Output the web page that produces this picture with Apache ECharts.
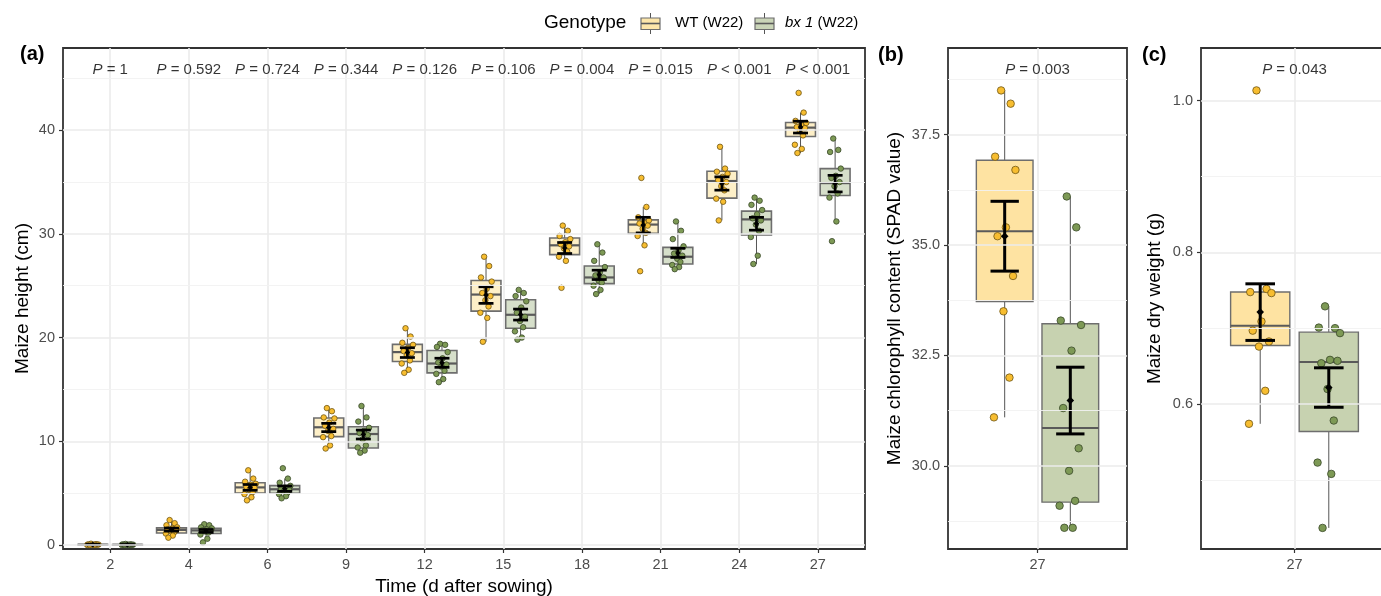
<!DOCTYPE html>
<html>
<head>
<meta charset="utf-8">
<script src="https://cdn.jsdelivr.net/npm/echarts@6/dist/echarts.min.js"></script>
<style>
  html, body { margin: 0; padding: 0; background: #fff; }
  #chart { width: 1381px; height: 596px; }
</style>
</head>
<body>
<div id="chart"></div>
<script>
// ---------- (a) maize height over time ----------
const DAYS = ['2', '4', '6', '9', '12', '15', '18', '21', '24', '27'];
const P_HEIGHT = ['= 1', '= 0.592', '= 0.724', '= 0.344', '= 0.126', '= 0.106', '= 0.004', '= 0.015', '< 0.001', '< 0.001'];

// individual plants, one list per sampling day
const WT_HEIGHT = [
  [0.12, 0.08, 0.05, 0.04, 0.03, 0.02, 0.02, 0.01, 0.01, 0, 0, 0],
  [2.4, 2.1, 1.9, 1.7, 1.6, 1.5, 1.4, 1.3, 1.2, 1.1, 0.9, 0.7],
  [7.2, 6.4, 6.1, 5.9, 5.8, 5.6, 5.5, 5.3, 5.1, 4.9, 4.6, 4.3],
  [13.2, 12.9, 12.3, 12.2, 11.8, 11.5, 11.2, 11.0, 10.5, 10.4, 9.6, 9.3],
  [20.9, 20.1, 19.5, 19.3, 19.0, 18.7, 18.5, 18.3, 17.8, 17.5, 16.9, 16.6],
  [27.8, 26.9, 25.8, 25.4, 24.7, 24.3, 24.0, 23.6, 23.0, 22.4, 21.9, 19.6],
  [30.8, 30.3, 29.8, 29.5, 29.2, 29.0, 28.8, 28.6, 28.3, 27.8, 27.4, 24.8],
  [35.4, 32.6, 31.6, 31.3, 31.1, 31.0, 30.8, 30.5, 30.1, 29.8, 28.9, 26.4],
  [38.4, 36.3, 36.0, 35.8, 35.5, 35.2, 35.0, 34.6, 34.2, 33.4, 33.1, 31.3],
  [43.6, 41.7, 40.9, 40.7, 40.5, 40.3, 40.2, 39.9, 39.5, 38.6, 38.2, 37.8]
];
const BX1_HEIGHT = [
  [0.1, 0.06, 0.05, 0.03, 0.02, 0.02, 0.01, 0.01, 0, 0, 0, 0],
  [2.0, 1.9, 1.7, 1.6, 1.5, 1.4, 1.4, 1.3, 1.2, 1.0, 0.6, 0.25],
  [7.4, 6.4, 6.0, 5.7, 5.5, 5.4, 5.3, 5.2, 5.0, 4.9, 4.7, 4.5],
  [13.4, 12.3, 11.9, 11.3, 11.0, 10.8, 10.6, 10.2, 9.6, 9.4, 9.1, 8.9],
  [19.4, 19.3, 19.1, 18.6, 18.0, 17.6, 17.4, 17.2, 16.8, 16.5, 16.0, 15.7],
  [24.6, 24.3, 24.0, 23.5, 22.9, 22.4, 22.0, 21.6, 21.0, 20.6, 20.0, 19.8],
  [29.0, 28.2, 27.4, 26.8, 26.3, 26.0, 25.8, 25.5, 25.3, 25.0, 24.6, 24.2],
  [31.2, 30.3, 29.5, 28.8, 28.4, 28.1, 27.9, 27.6, 27.3, 27.0, 26.8, 26.6],
  [33.5, 33.2, 32.8, 32.3, 31.9, 31.5, 31.3, 30.9, 30.3, 29.7, 27.9, 27.1],
  [39.2, 38.1, 37.9, 36.3, 35.6, 35.4, 35.0, 34.6, 33.9, 33.5, 31.2, 29.3]
];

// box summaries: [lower whisker, Q1, median, Q3, upper whisker]
const WT_HEIGHT_BOX = [
  [0, 0.01, 0.02, 0.045, 0.08], [0.7, 1.15, 1.45, 1.65, 2.4], [4.3, 5.0, 5.55, 6.0, 7.2],
  [9.3, 10.45, 11.35, 12.25, 13.2], [16.6, 17.7, 18.6, 19.35, 20.9], [19.6, 22.55, 24.15, 25.5, 27.8],
  [27.4, 28.0, 28.9, 29.6, 30.8], [28.9, 30.05, 30.9, 31.35, 32.6], [31.3, 33.45, 35.1, 36.05, 38.4],
  [37.8, 39.4, 40.25, 40.75, 41.7]
];
const BX1_HEIGHT_BOX = [
  [0, 0, 0.01, 0.03, 0.06], [0.6, 1.1, 1.4, 1.6, 2.0], [4.5, 4.98, 5.37, 5.72, 6.4],
  [8.9, 9.35, 10.7, 11.4, 13.4], [15.7, 16.6, 17.5, 18.75, 19.4], [19.8, 20.9, 22.2, 23.65, 24.6],
  [24.2, 25.2, 25.8, 26.9, 29.0], [26.6, 27.1, 27.8, 28.7, 31.2], [27.1, 29.9, 31.4, 32.2, 33.5],
  [31.2, 33.7, 34.9, 36.3, 39.2]
];

// mean and standard error per day
const WT_HEIGHT_MEAN = [0.03, 1.48, 5.55, 11.33, 18.55, 24.1, 28.64, 30.85, 34.86, 40.3];
const WT_HEIGHT_SE = [0.02, 0.15, 0.28, 0.4, 0.47, 0.8, 0.53, 0.75, 0.64, 0.57];
const BX1_HEIGHT_MEAN = [0.02, 1.35, 5.43, 10.65, 17.57, 22.22, 26.05, 28.17, 30.98, 34.85];
const BX1_HEIGHT_SE = [0.02, 0.14, 0.26, 0.43, 0.44, 0.53, 0.45, 0.44, 0.62, 0.8];

// ---------- (b) chlorophyll (SPAD) at day 27 ----------
const DAY_FINAL = ['27'];
const P_SPAD = ['= 0.003'];
const WT_SPAD = [38.5, 38.2, 37.0, 36.7, 35.4, 35.2, 34.3, 33.5, 32.0, 31.1];
const BX1_SPAD = [36.1, 35.4, 33.29, 33.19, 32.61, 31.31, 30.4, 29.89, 29.21, 29.1, 28.6, 28.6];
const WT_SPAD_BOX = [31.1, 33.72, 35.31, 36.92, 38.5];
const BX1_SPAD_BOX = [28.6, 29.18, 30.86, 33.22, 36.1];
const WT_SPAD_MEAN = 35.2, WT_SPAD_SE = 0.79;
const BX1_SPAD_MEAN = 31.48, BX1_SPAD_SE = 0.755;

// ---------- (c) dry weight at day 27 ----------
const P_DRY = ['= 0.043'];
const WT_DRY = [1.0136, 0.752, 0.7478, 0.7465, 0.709, 0.697, 0.6827, 0.676, 0.6177, 0.5742];
const BX1_DRY = [0.729, 0.7003, 0.701, 0.6937, 0.6585, 0.654, 0.6572, 0.620, 0.5785, 0.5231, 0.5082, 0.437];
const WT_DRY_BOX = [0.5742, 0.6774, 0.7034, 0.748, 0.752];
const BX1_DRY_BOX = [0.437, 0.564, 0.6555, 0.695, 0.729];
const WT_DRY_MEAN = 0.7214, WT_DRY_SE = 0.0373;
const BX1_DRY_MEAN = 0.622, BX1_DRY_SE = 0.026;

// axis ticks
const TICKS_HEIGHT = [0, 10, 20, 30, 40];
const TICKS_SPAD = [30, 32.5, 35, 37.5];
const TICKS_DRY = [0.6, 0.8, 1.0];

// ---------- styling & layout ----------
const FONT = '"Liberation Sans", Arial, Helvetica, sans-serif';
const DODGE = 0.22;      // group offset from category centre
const BOX_W = 0.38;      // box width, category units
const CAP_W = 0.19;      // error-bar cap width
const JIT = 0.08;        // horizontal spread of the dots
const JITTER = [-0.3, 0.5, -0.8, 0.9, 0.1, -0.6, 0.7, -0.1, 0.4, -0.9, 0.2, -0.5];

const COL = {
  wtFillA: '#FDEFC7', bxFillA: '#D6DFCA',
  wtFillB: '#FEE3A2', bxFillB: '#C7D2B0',
  wtDot: '#F7BD30', wtDotEdge: '#6E5614',
  bxDot: '#7D9955', bxDotEdge: '#3A4929',
  boxEdge: '#6E6E6E', median: '#5A5A5A', whisker: '#555555',
  frame: '#333333', tickText: '#4D4D4D',
  gridMajor: '#EBEBEB', gridMinor: '#F2F2F2'
};

function boxSeries(grid, data, fill, lw) {
  return {
    type: 'custom', xAxisIndex: grid, yAxisIndex: grid, z: 2, silent: true,
    data: data,
    renderItem: function (params, api) {
      const x = api.value(0);
      const p = i => api.coord([x, api.value(i)]);
      const lo = p(1), q1 = p(2), md = p(3), q3 = p(4), hi = p(5);
      const hw = api.size([BOX_W, 0])[0] / 2;
      const cx = lo[0];
      return {
        type: 'group', children: [
          { type: 'line', shape: { x1: cx, y1: hi[1], x2: cx, y2: q3[1] }, style: { stroke: COL.whisker, lineWidth: 1 } },
          { type: 'line', shape: { x1: cx, y1: q1[1], x2: cx, y2: lo[1] }, style: { stroke: COL.whisker, lineWidth: 1 } },
          { type: 'rect', shape: { x: cx - hw, y: q3[1], width: 2 * hw, height: Math.max(q1[1] - q3[1], 0.5) },
            style: { fill: fill, stroke: COL.boxEdge, lineWidth: lw } },
          { type: 'line', shape: { x1: cx - hw, y1: md[1], x2: cx + hw, y2: md[1] }, style: { stroke: COL.median, lineWidth: lw + 0.6 } }
        ]
      };
    }
  };
}

function meanSeries(grid, data, lw, dia) {
  return {
    type: 'custom', xAxisIndex: grid, yAxisIndex: grid, z: 4, silent: true,
    data: data,
    renderItem: function (params, api) {
      const x = api.value(0), m = api.value(1), se = api.value(2);
      const top = api.coord([x, m + se]), bot = api.coord([x, m - se]), c = api.coord([x, m]);
      const hc = api.size([CAP_W, 0])[0] / 2;
      const st = { stroke: '#000', lineWidth: lw };
      return {
        type: 'group', children: [
          { type: 'line', shape: { x1: c[0], y1: top[1], x2: c[0], y2: bot[1] }, style: st },
          { type: 'line', shape: { x1: c[0] - hc, y1: top[1], x2: c[0] + hc, y2: top[1] }, style: st },
          { type: 'line', shape: { x1: c[0] - hc, y1: bot[1], x2: c[0] + hc, y2: bot[1] }, style: st },
          { type: 'polygon', shape: { points: [[c[0], c[1] - dia], [c[0] + dia, c[1]], [c[0], c[1] + dia], [c[0] - dia, c[1]]] },
            style: { fill: '#000' } }
        ]
      };
    }
  };
}

function dotSeries(grid, groups, shift, fill, edge, size) {
  const data = [];
  groups.forEach((vals, g) => vals.forEach((v, k) => data.push([g + shift + JITTER[k % JITTER.length] * JIT, v])));
  return {
    type: 'scatter', xAxisIndex: grid, yAxisIndex: grid, z: 3, silent: true,
    symbol: 'circle', symbolSize: size, data: data,
    itemStyle: { color: fill, borderColor: edge, borderWidth: 0.8, opacity: 1 }
  };
}

function gridLines(grid, xs, yMajor, yMinor) {
  const d = [];
  const major = { color: COL.gridMajor, width: 1.6, type: 'solid' };
  const minor = { color: COL.gridMinor, width: 0.9, type: 'solid' };
  xs.forEach(v => d.push({ xAxis: v, lineStyle: major }));
  yMajor.forEach(v => d.push({ yAxis: v, lineStyle: major }));
  yMinor.forEach(v => d.push({ yAxis: v, lineStyle: minor }));
  return {
    type: 'line', xAxisIndex: grid, yAxisIndex: grid, z: 1, silent: true, data: [],
    markLine: { silent: true, symbol: ['none', 'none'], label: { show: false }, animation: false,
      emphasis: { disabled: true }, data: d }
  };
}

function pLabels(grid, labels, yPos) {
  return {
    type: 'scatter', xAxisIndex: grid, yAxisIndex: grid, z: 5, silent: true,
    symbolSize: 1, itemStyle: { color: 'rgba(0,0,0,0)' },
    data: labels.map((s, i) => [i, yPos]),
    label: {
      show: true, position: 'inside', color: '#000', fontSize: 15, fontFamily: FONT,
      formatter: params => '{i|P} ' + labels[params.dataIndex],
      rich: { i: { fontStyle: 'italic', fontSize: 15, color: '#000', fontFamily: FONT } }
    }
  };
}

function xAxisDef(grid, cats, min, max, name) {
  const idx = cats.map((c, i) => i);
  return {
    gridIndex: grid, type: 'value', min: min, max: max,
    splitLine: { show: false }, axisLine: { show: false, onZero: false },
    axisTick: { show: true, length: 4, customValues: idx, lineStyle: { color: COL.frame, width: 1.2 } },
    axisLabel: { customValues: idx, formatter: v => cats[Math.round(v)], color: COL.tickText,
      fontSize: 14.5, fontFamily: FONT, margin: 8 },
    name: name || '', nameLocation: 'middle', nameGap: 28, nameMoveOverlap: false,
    nameTextStyle: { fontSize: 19, fontFamily: FONT, color: '#000' }
  };
}

function yAxisDef(grid, min, max, ticks, dec, name, gap) {
  return {
    gridIndex: grid, type: 'value', min: min, max: max,
    splitLine: { show: false }, axisLine: { show: false, onZero: false },
    axisTick: { show: true, length: 4, customValues: ticks, lineStyle: { color: COL.frame, width: 1.2 } },
    axisLabel: { customValues: ticks, formatter: v => v.toFixed(dec), color: COL.tickText,
      fontSize: 14.5, fontFamily: FONT, margin: 8 },
    name: name, nameLocation: 'middle', nameGap: gap, nameRotate: 90, nameMoveOverlap: false,
    nameTextStyle: { fontSize: 19, fontFamily: FONT, color: '#000' }
  };
}

const frame = { show: true, borderColor: COL.frame, borderWidth: 1.8, backgroundColor: '#fff',
  containLabel: false, outerBoundsMode: 'none' };

function legendKey(x0, fill) {
  return {
    type: 'group', x: x0, y: 0, silent: true, children: [
      { type: 'line', shape: { x1: 9.5, y1: 13, x2: 9.5, y2: 18 }, style: { stroke: COL.whisker, lineWidth: 1 } },
      { type: 'line', shape: { x1: 9.5, y1: 29.5, x2: 9.5, y2: 34 }, style: { stroke: COL.whisker, lineWidth: 1 } },
      { type: 'rect', shape: { x: 0, y: 18, width: 19, height: 11.5 }, style: { fill: fill, stroke: COL.boxEdge, lineWidth: 1.2 } },
      { type: 'line', shape: { x1: 0, y1: 23.5, x2: 19, y2: 23.5 }, style: { stroke: COL.median, lineWidth: 1.6 } }
    ]
  };
}

function txt(x, y, text, size, extra) {
  return { type: 'text', x: x, y: y, silent: true,
    style: Object.assign({ text: text, fontSize: size, fontFamily: FONT, fill: '#000', verticalAlign: 'middle', align: 'left' }, extra || {}) };
}

const heightIdx = DAYS.map((d, i) => i);

const option = {
  animation: false,
  backgroundColor: '#fff',
  grid: [
    Object.assign({ left: 63, top: 48, width: 802, height: 501 }, frame),
    Object.assign({ left: 948, top: 48, width: 179, height: 501 }, frame),
    Object.assign({ left: 1201, top: 48, width: 187, height: 501 }, frame)
  ],
  xAxis: [
    xAxisDef(0, DAYS, -0.6, 9.6, 'Time (d after sowing)'),
    xAxisDef(1, DAY_FINAL, -0.6, 0.6),
    xAxisDef(2, DAY_FINAL, -0.6, 0.6)
  ],
  yAxis: [
    yAxisDef(0, -0.39, 47.93, TICKS_HEIGHT, 0, 'Maize height (cm)', 31),
    yAxisDef(1, 28.12, 39.46, TICKS_SPAD, 1, 'Maize chlorophyll content (SPAD value)', 44),
    yAxisDef(2, 0.4092, 1.0695, TICKS_DRY, 1, 'Maize dry weight (g)', 37)
  ],
  series: [
    gridLines(0, heightIdx, TICKS_HEIGHT, [5, 15, 25, 35, 45]),
    gridLines(1, [0], TICKS_SPAD, [28.75, 31.25, 33.75, 36.25, 38.75]),
    gridLines(2, [0], TICKS_DRY, [0.5, 0.7, 0.9]),

    boxSeries(0, WT_HEIGHT_BOX.map((b, i) => [i - DODGE].concat(b)), COL.wtFillA, 1.6),
    boxSeries(0, BX1_HEIGHT_BOX.map((b, i) => [i + DODGE].concat(b)), COL.bxFillA, 1.6),
    dotSeries(0, WT_HEIGHT, -DODGE, COL.wtDot, COL.wtDotEdge, 5.5),
    dotSeries(0, BX1_HEIGHT, DODGE, COL.bxDot, COL.bxDotEdge, 5.5),
    meanSeries(0, WT_HEIGHT_MEAN.map((m, i) => [i - DODGE, m, WT_HEIGHT_SE[i]]), 2.7, 2.8),
    meanSeries(0, BX1_HEIGHT_MEAN.map((m, i) => [i + DODGE, m, BX1_HEIGHT_SE[i]]), 2.7, 2.8),
    pLabels(0, P_HEIGHT, 45.78),

    boxSeries(1, [[-DODGE].concat(WT_SPAD_BOX)], COL.wtFillB, 1.4),
    boxSeries(1, [[DODGE].concat(BX1_SPAD_BOX)], COL.bxFillB, 1.4),
    dotSeries(1, [WT_SPAD], -DODGE, COL.wtDot, COL.wtDotEdge, 7.5),
    dotSeries(1, [BX1_SPAD], DODGE, COL.bxDot, COL.bxDotEdge, 7.5),
    meanSeries(1, [[-DODGE, WT_SPAD_MEAN, WT_SPAD_SE]], 3, 3.8),
    meanSeries(1, [[DODGE, BX1_SPAD_MEAN, BX1_SPAD_SE]], 3, 3.8),
    pLabels(1, P_SPAD, 38.97),

    boxSeries(2, [[-DODGE].concat(WT_DRY_BOX)], COL.wtFillB, 1.4),
    boxSeries(2, [[DODGE].concat(BX1_DRY_BOX)], COL.bxFillB, 1.4),
    dotSeries(2, [WT_DRY], -DODGE, COL.wtDot, COL.wtDotEdge, 7.5),
    dotSeries(2, [BX1_DRY], DODGE, COL.bxDot, COL.bxDotEdge, 7.5),
    meanSeries(2, [[-DODGE, WT_DRY_MEAN, WT_DRY_SE]], 3, 3.8),
    meanSeries(2, [[DODGE, BX1_DRY_MEAN, BX1_DRY_SE]], 3, 3.8),
    pLabels(2, P_DRY, 1.041)
  ],
  graphic: [
    txt(544, 23, 'Genotype', 19),
    legendKey(641, '#FDE6AA'),
    txt(675, 23, 'WT (W22)', 15),
    legendKey(755, '#CAD5B8'),
    txt(785, 23, '{i|bx 1} (W22)', 15, { rich: { i: { fontStyle: 'italic', fontSize: 15, fontFamily: FONT, fill: '#000' } } }),
    txt(20, 54, '(a)', 20, { fontWeight: 'bold' }),
    txt(878, 55, '(b)', 20, { fontWeight: 'bold' }),
    txt(1142, 55, '(c)', 20, { fontWeight: 'bold' })
  ]
};

const chart = echarts.init(document.getElementById('chart'), null, { renderer: 'canvas' });
chart.setOption(option);
</script>
</body>
</html>
